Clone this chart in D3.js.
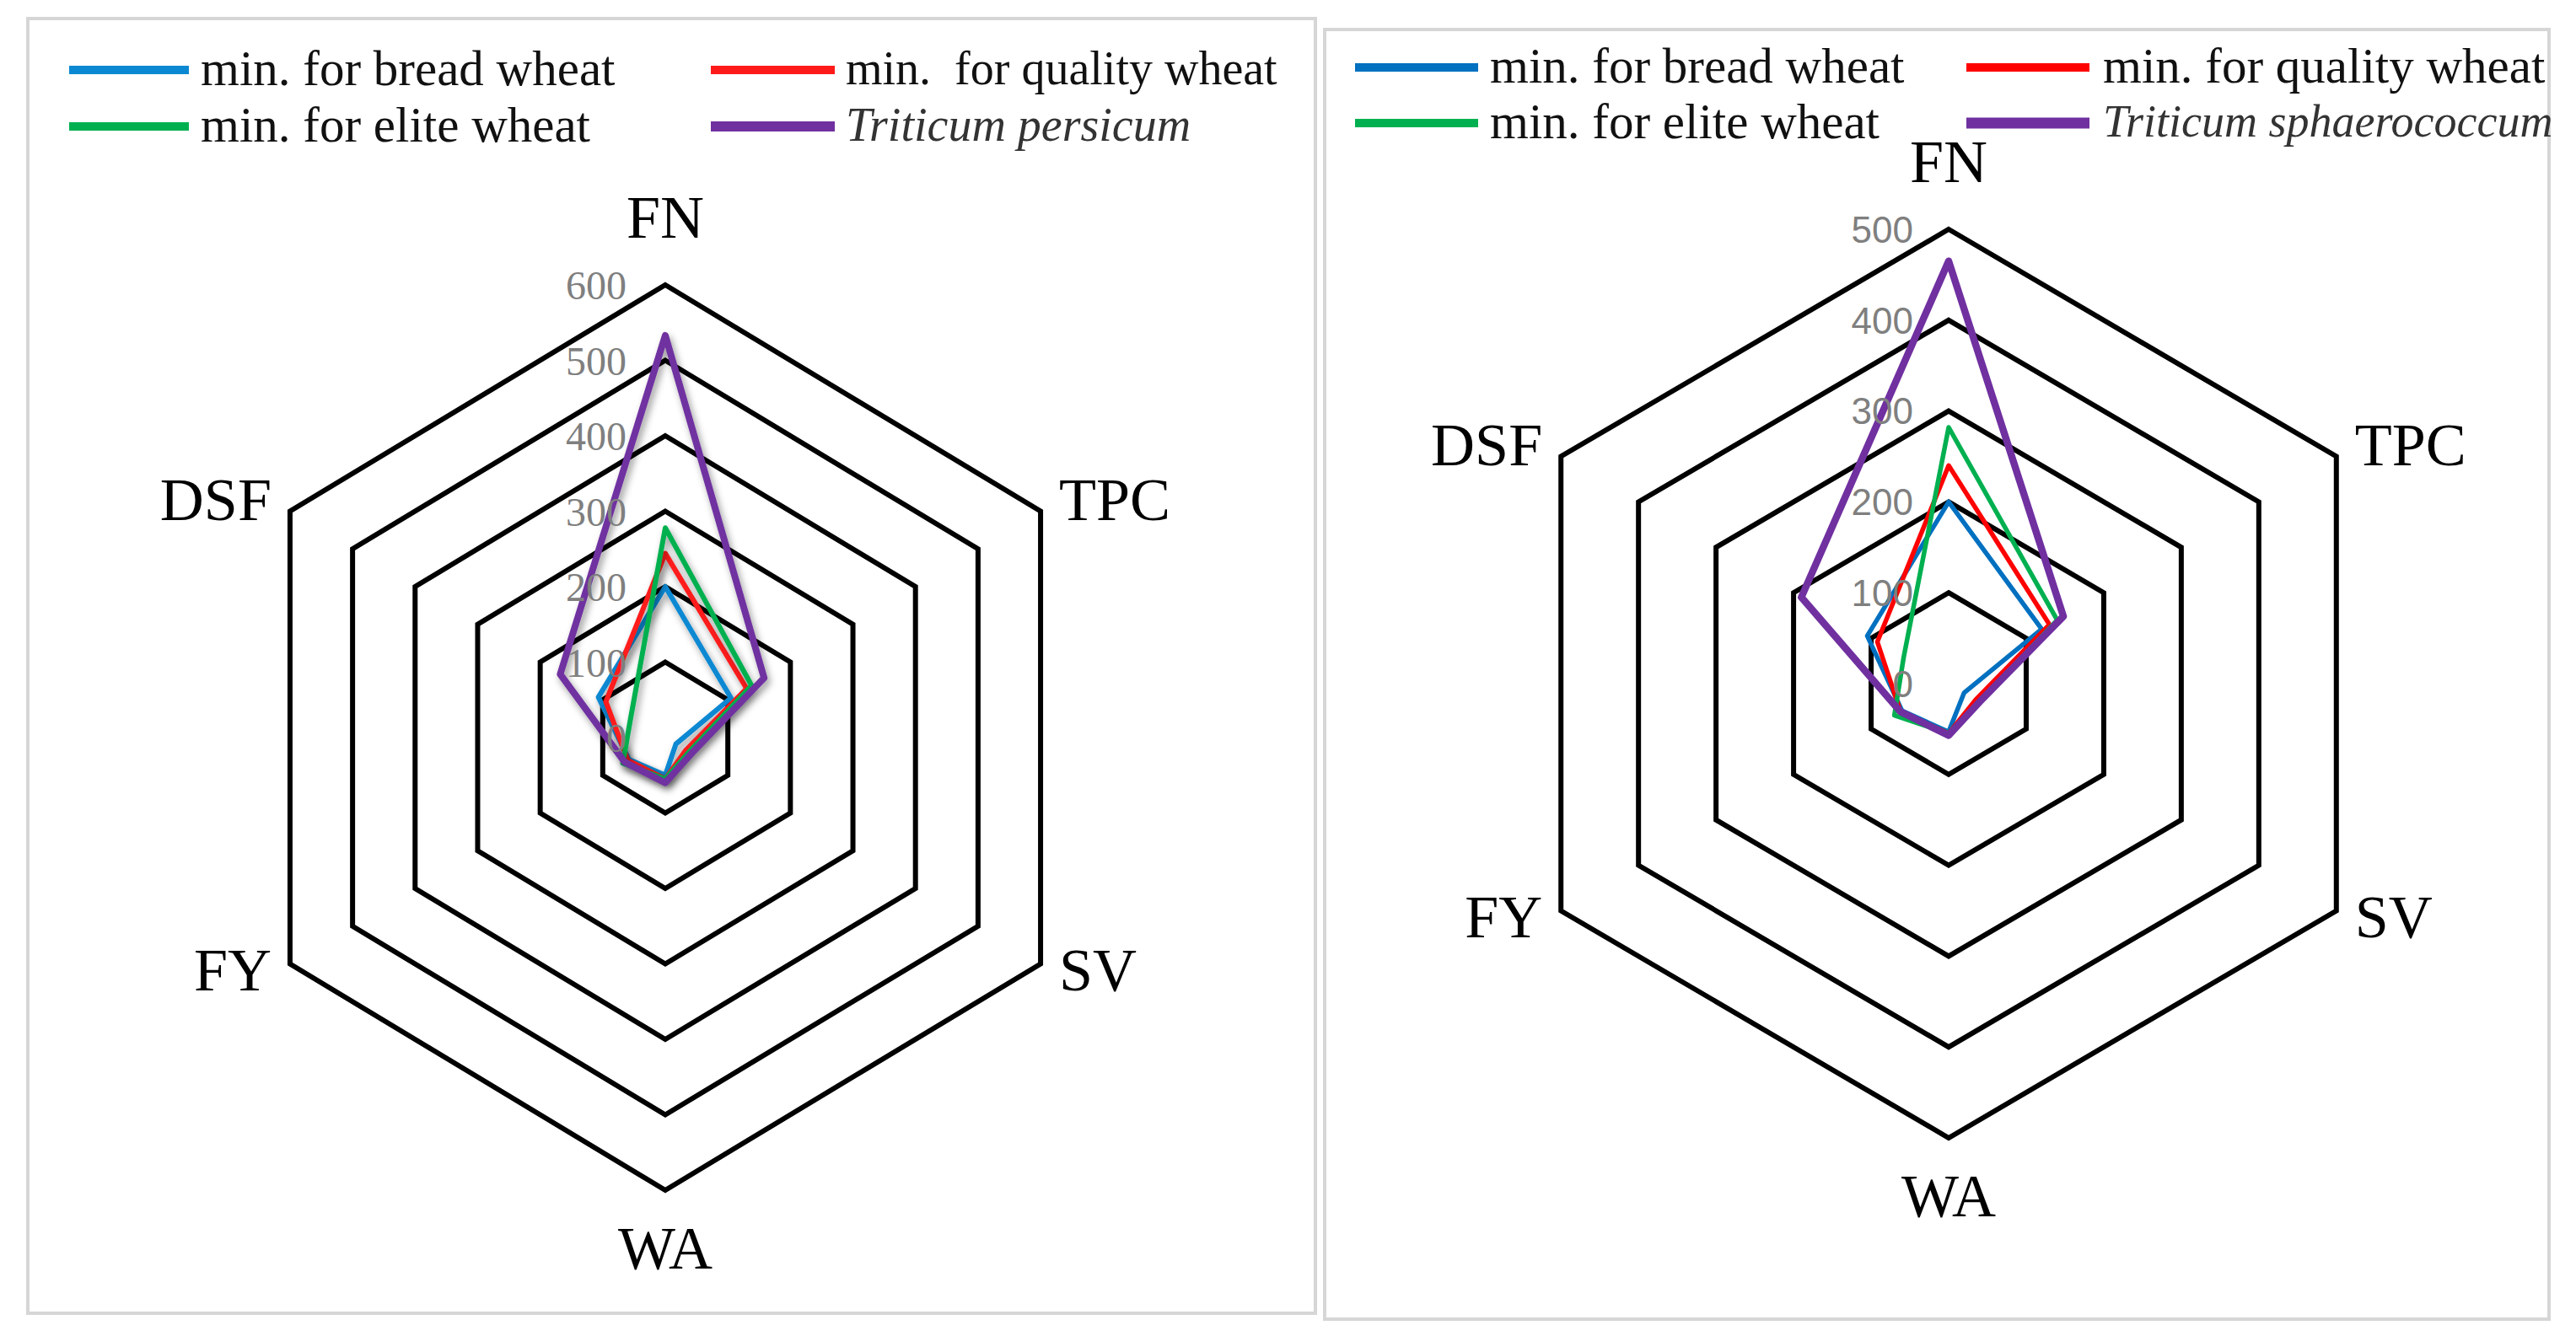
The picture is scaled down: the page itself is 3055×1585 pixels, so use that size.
<!DOCTYPE html>
<html>
<head>
<meta charset="utf-8">
<script src="https://cdn.jsdelivr.net/npm/d3@7"></script>
<style>
  html, body { margin: 0; padding: 0; background: #fff; }
  svg { display: block; }
  text { white-space: pre; }
</style>
</head>
<body>
<svg id="chart" width="3055" height="1585"></svg>
<script>
// axes (clockwise from top)
const axes = ['FN', 'TPC', 'SV', 'WA', 'FY', 'DSF'];

// left panel: Triticum persicum
const leftTicks = [0, 100, 200, 300, 400, 500, 600];
const leftBread = [200, 105, 17, 50, 58, 107];
const leftQuality = [244, 130, 33, 55, 60, 95];
const leftElite = [278, 138, 38, 55, 68, 55];
const persicum = [533, 158, 42, 60, 65, 168];

// right panel: Triticum sphaerococcum
const rightTicks = [0, 100, 200, 300, 400, 500];
const rightBread = [200, 120, 20, 53, 60, 105];
const rightQuality = [240, 130, 35, 55, 62, 92];
const rightElite = [282, 140, 40, 55, 70, 58];
const sphaerococcum = [465, 148, 40, 57, 62, 190];

const legendNames = ['min. for bread wheat', 'min.  for quality wheat', 'min. for elite wheat'];

(function () {
  'use strict';

  const svg = d3.select('#chart');
  const defs = svg.append('defs');

  defs.append('filter')
    .attr('id', 'shadow')
    .attr('x', '-20%').attr('y', '-20%')
    .attr('width', '140%').attr('height', '140%')
    .append('feDropShadow')
    .attr('dx', 3).attr('dy', 5)
    .attr('stdDeviation', 4)
    .attr('flood-color', '#000')
    .attr('flood-opacity', 0.4);

  // panel frames
  svg.append('rect')
    .attr('x', 33).attr('y', 22).attr('width', 1527).attr('height', 1536)
    .attr('fill', 'none').attr('stroke', '#d6d6d6').attr('stroke-width', 4);
  svg.append('rect')
    .attr('x', 1571).attr('y', 35).attr('width', 1452).attr('height', 1530)
    .attr('fill', 'none').attr('stroke', '#d6d6d6').attr('stroke-width', 4);

  const angle = d3.scaleLinear().domain([0, axes.length]).range([0, 2 * Math.PI]);

  function drawRadar(cfg) {
    const g = svg.append('g');
    const r = d3.scaleLinear().domain([0, d3.max(cfg.ticks)]).range([0, cfg.R]);
    const px = (v, i) => cfg.cx + cfg.sx * r(v) * Math.sin(angle(i));
    const py = (v, i) => cfg.cy - r(v) * Math.cos(angle(i));

    const line = d3.line()
      .x(d => px(d.v, d.i))
      .y(d => py(d.v, d.i))
      .curve(d3.curveLinearClosed);

    // hexagon grid
    g.selectAll('path.grid')
      .data(cfg.ticks.filter(t => t > 0))
      .join('path')
      .attr('class', 'grid')
      .attr('d', t => line(axes.map((a, i) => ({v: t, i: i}))))
      .attr('fill', 'none')
      .attr('stroke', '#000')
      .attr('stroke-width', cfg.gridWidth)
      .attr('stroke-linejoin', 'miter');

    // series
    g.selectAll('path.series')
      .data(cfg.series)
      .join('path')
      .attr('class', 'series')
      .attr('d', s => line(s.values.map((v, i) => ({v: v, i: i}))))
      .attr('fill', 'none')
      .attr('stroke', s => s.color)
      .attr('stroke-width', s => s.width)
      .attr('stroke-linejoin', 'round')
      .attr('filter', cfg.shadow ? 'url(#shadow)' : null);

    // tick labels
    g.selectAll('text.tick')
      .data(cfg.ticks)
      .join('text')
      .attr('class', 'tick')
      .attr('x', cfg.cx - cfg.tickGap)
      .attr('y', t => cfg.cy - r(t))
      .attr('dy', '0.36em')
      .attr('text-anchor', 'end')
      .attr('font-family', cfg.tickFont)
      .attr('font-size', cfg.tickSize)
      .attr('fill', '#7f7f7f')
      .text(t => t);

    // category labels
    const maxV = d3.max(cfg.ticks);
    g.selectAll('text.cat')
      .data(axes)
      .join('text')
      .attr('class', 'cat')
      .attr('x', (a, i) => {
        const s = Math.sin(angle(i));
        if (Math.abs(s) < 0.01) return px(maxV, i);
        return px(maxV, i) + (s > 0 ? 22 : -22);
      })
      .attr('y', (a, i) => {
        const c = Math.cos(angle(i));
        if (c > 0.99) return py(maxV, i) - 56;
        if (c < -0.99) return py(maxV, i) + 93;
        return py(maxV, i) + (c > 0 ? 10 : 31);
      })
      .attr('text-anchor', (a, i) => {
        const s = Math.sin(angle(i));
        if (Math.abs(s) < 0.01) return 'middle';
        return s > 0 ? 'start' : 'end';
      })
      .attr('font-family', '"Liberation Serif", "DejaVu Serif", serif')
      .attr('font-size', 72)
      .attr('fill', '#000')
      .text(a => a);
  }

  function drawLegend(items, cols, rows) {
    const g = svg.append('g');
    items.forEach((it, k) => {
      const col = cols[k % 2];
      const y = rows[Math.floor(k / 2)];
      g.append('line')
        .attr('x1', col.x1).attr('x2', col.x2)
        .attr('y1', y).attr('y2', y)
        .attr('stroke', it.color)
        .attr('stroke-width', it.legendWidth);
      g.append('text')
        .attr('x', col.tx).attr('y', y)
        .attr('dy', '0.3em')
        .attr('font-family', '"Liberation Serif", "DejaVu Serif", serif')
        .attr('font-size', it.fontSize || 59)
        .attr('font-style', it.italic ? 'italic' : 'normal')
        .attr('fill', it.italic ? '#333' : '#111')
        .text(it.name);
    });
  }

  const leftSeries = [
    {name: legendNames[0], values: leftBread, color: '#0a88d2', width: 6, legendWidth: 10},
    {name: legendNames[1], values: leftQuality, color: '#ff1a1a', width: 6, legendWidth: 10, fontSize: 56},
    {name: legendNames[2], values: leftElite, color: '#00b050', width: 6, legendWidth: 10},
    {name: 'Triticum persicum', values: persicum, color: '#7030a0', width: 8, legendWidth: 12, italic: true, fontSize: 56}
  ];
  const rightSeries = [
    {name: 'min. for bread wheat', values: rightBread, color: '#0070c0', width: 5.5, legendWidth: 10},
    {name: 'min. for quality wheat', values: rightQuality, color: '#ff0000', width: 5.5, legendWidth: 10},
    {name: legendNames[2], values: rightElite, color: '#00b050', width: 5.5, legendWidth: 10},
    {name: 'Triticum sphaerococcum', values: sphaerococcum, color: '#7030a0', width: 8.5, legendWidth: 13, italic: true, fontSize: 54}
  ];

  drawRadar({
    cx: 789, cy: 875, R: 537, sx: 0.957, ticks: leftTicks,
    series: leftSeries, shadow: true, gridWidth: 6,
    tickGap: 46, tickFont: '"Liberation Serif", "DejaVu Serif", serif', tickSize: 48
  });
  drawRadar({
    cx: 2311, cy: 811, R: 539, sx: 0.985, ticks: rightTicks,
    series: rightSeries, shadow: false, gridWidth: 6,
    tickGap: 42, tickFont: '"Liberation Sans", Arial, sans-serif', tickSize: 44
  });

  // legend order: bread, quality / elite, wild species
  drawLegend(leftSeries,
    [{x1: 82, x2: 224, tx: 238}, {x1: 843, x2: 990, tx: 1003}],
    [83, 150]);
  drawLegend(rightSeries,
    [{x1: 1607, x2: 1753, tx: 1767}, {x1: 2332, x2: 2478, tx: 2494}],
    [80, 146]);
}());
</script>
</body>
</html>
